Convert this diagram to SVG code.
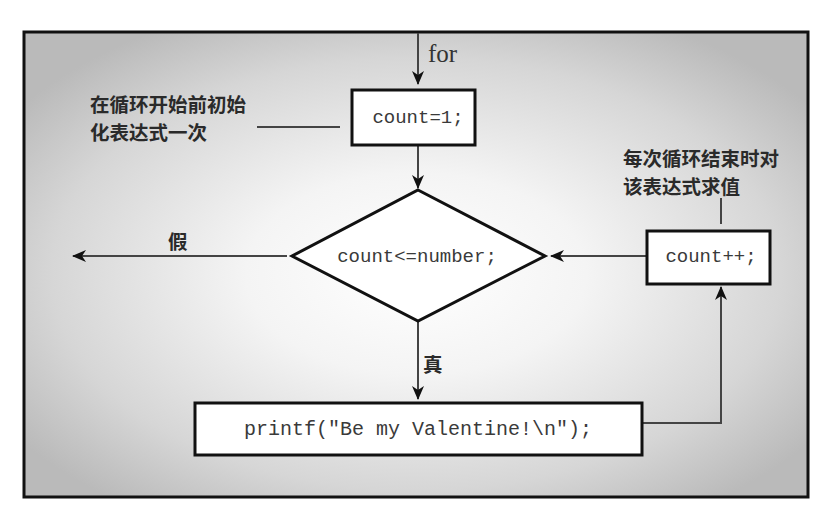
<svg xmlns="http://www.w3.org/2000/svg" width="835" height="509" viewBox="0 0 835 509">
<defs>
<radialGradient id="bg" cx="50%" cy="52%" r="62%">
<stop offset="0" stop-color="#ffffff"/>
<stop offset="0.35" stop-color="#f4f4f4"/>
<stop offset="0.75" stop-color="#d6d6d6"/>
<stop offset="1" stop-color="#bababa"/>
</radialGradient>
<marker id="arr" markerUnits="userSpaceOnUse" markerWidth="14" markerHeight="12" refX="13" refY="6" orient="auto">
<path d="M0,0 L14,6 L0,12 L4,6 z" fill="#111"/>
</marker>
<style>
.box{fill:#fff;stroke:#111;stroke-width:3}
.conn{fill:none;stroke:#444;stroke-width:2}
.code{font-family:"Liberation Mono","Courier New",monospace;font-size:19px;fill:#3a3a3a;text-anchor:middle}
.cn{font-family:"Noto Sans CJK SC","Noto Sans CJK TC",sans-serif;font-size:19.5px;font-weight:bold;fill:#2a2a2a}
.for{font-family:"Liberation Serif","Times New Roman",serif;font-size:25px;fill:#333}
</style>
</defs>
<rect x="24" y="32" width="784" height="465" fill="url(#bg)" stroke="#111" stroke-width="3"/>
<g id="connectors">
<line class="conn" x1="418" y1="33" x2="418" y2="84" marker-end="url(#arr)"/>
<line class="conn" x1="418" y1="146" x2="418" y2="188" marker-end="url(#arr)"/>
<line class="conn" x1="287" y1="256" x2="73" y2="256" marker-end="url(#arr)"/>
<line class="conn" x1="646" y1="256" x2="551" y2="256" marker-end="url(#arr)"/>
<line class="conn" x1="418" y1="322" x2="418" y2="399" marker-end="url(#arr)"/>
<polyline class="conn" points="643,423 721,423 721,287" marker-end="url(#arr)"/>
<line class="conn" x1="257" y1="127" x2="340" y2="127"/>
<line class="conn" x1="721" y1="198" x2="721" y2="224"/>
<text class="for" x="428" y="62">for</text>
<text class="cn" x="168" y="249">假</text>
<text class="cn" x="423" y="372">真</text>
</g>
<g id="init">
<rect class="box" x="352" y="90" width="123" height="55"/>
<text class="code" x="418" y="123">count=1;</text>
</g>
<g id="cond">
<polygon class="box" points="418,190 545,256 418,321 292,256"/>
<text class="code" x="417" y="262">count&lt;=number;</text>
</g>
<g id="update">
<rect class="box" x="647" y="231" width="123" height="53"/>
<text class="code" x="711" y="262">count++;</text>
</g>
<g id="body">
<rect class="box" x="195" y="403" width="447" height="52"/>
<text class="code" x="418" y="435" style="font-size:20px">printf("Be my Valentine!\n");</text>
</g>
<g id="note-init">
<text class="cn" x="90" y="112">在循环开始前初始</text>
<text class="cn" x="90" y="140">化表达式一次</text>
</g>
<g id="note-update">
<text class="cn" x="623" y="166">每次循环结束时对</text>
<text class="cn" x="623" y="194">该表达式求值</text>
</g>
</svg>
